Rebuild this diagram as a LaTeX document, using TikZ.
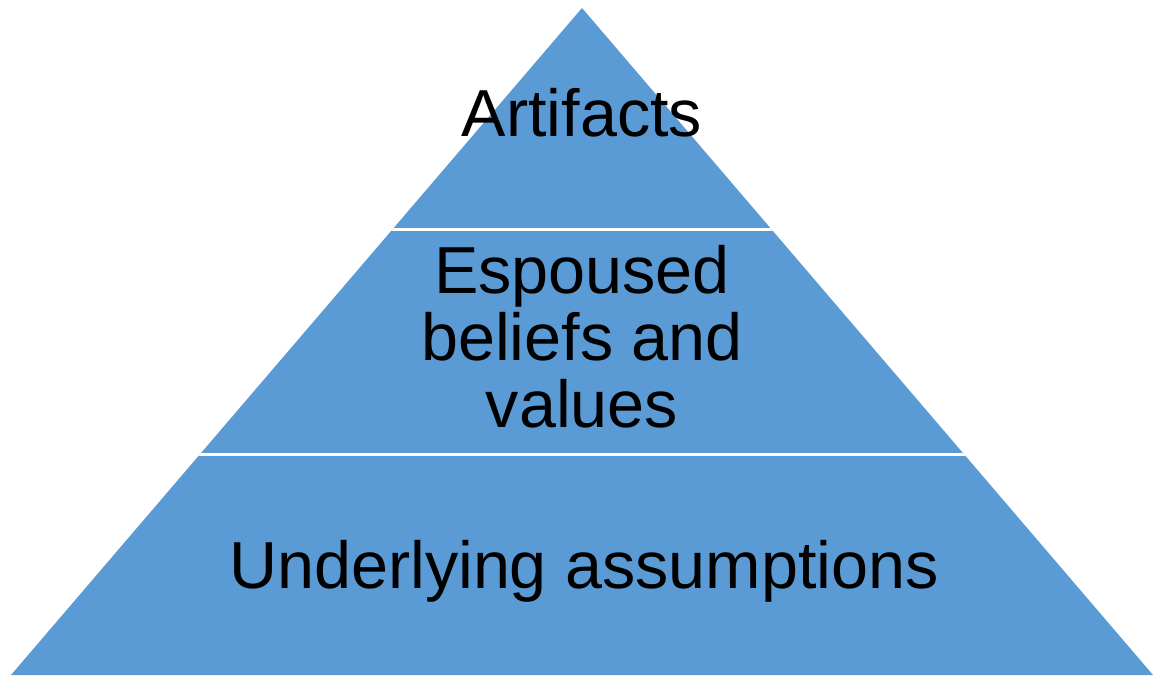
\documentclass[tikz,border=0pt]{standalone}
\usepackage{fontspec}
\setmainfont{Liberation Sans}
\usepackage{tikz}
\definecolor{layerblue}{HTML}{5B9BD5}
\tikzset{
    layer/.style={fill=layerblue},
    gap/.style={draw=white, line width=2.5pt},
    level/.style={
        font=\fontsize{66.5}{67}\selectfont,
        text=black,
        align=center,
        inner sep=0pt
    }
}

\begin{document}
\begin{tikzpicture}[x=1pt,y=-1pt]
		\useasboundingbox (0,0) rectangle (1157,675);

		% corners of the pyramid
		\coordinate (apex) at (582,8);
		\coordinate (baseL) at (11,675);
		\coordinate (baseR) at (1153,675);

		% body
		\fill [layer] (apex) -- (baseR) -- (baseL) -- cycle;

		% white cuts between the levels
		\begin{scope}
			\clip (apex) -- (baseR) -- (baseL) -- cycle;
			\draw [gap] (0,229.5) -- (1157,229.5);
			\draw [gap] (0,454.5) -- (1157,454.5);
		\end{scope}

		% level texts
		\node[level, anchor=base] (artifacts) at (582,136) {Artifacts};
		\node[level] (espoused) at (582,337) {Espoused\\beliefs and\\values};
		\node[level, anchor=base] (assumptions) at (584,588) {Underlying assumptions};

	\end{tikzpicture}
\end{document}
